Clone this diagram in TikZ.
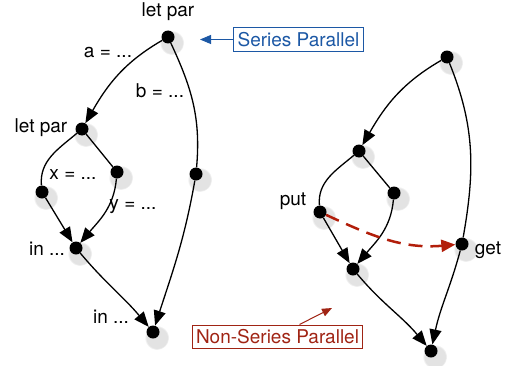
\documentclass[tikz,border=0pt]{standalone}
\usepackage{fontspec}
\setmainfont{TeX Gyre Heros}
\usetikzlibrary{arrows.meta,shadows}
\definecolor{spblue}{RGB}{28,88,165}
\definecolor{nspred}{RGB}{160,36,20}
\definecolor{dashred}{RGB}{178,30,10}

\begin{document}
\begin{tikzpicture}[x=1pt,y=1pt,
  every node/.style={font=\fontsize{19}{22}\selectfont},
  vtx/.style={circle,fill=black,inner sep=0pt,minimum size=13pt,
    circular drop shadow={shadow xshift=2pt,shadow yshift=-3pt,opacity=.22,shadow scale=1.9}},
  edge/.style={line width=1.3pt},
  arr/.style={edge,-{Triangle[length=15pt,width=12pt]}},
  note/.style={draw,line width=1pt,inner xsep=4pt,inner ysep=1pt,minimum height=23pt}]
\useasboundingbox (0,0) rectangle (510,365);

% series parallel graph
\node[vtx] (a1) at (168,328) {};
\node[vtx] (b1) at (82,236) {};
\node[vtx] (c1) at (42,173) {};
\node[vtx] (d1) at (117,193) {};
\node[vtx] (e1) at (76,117) {};
\node[vtx] (f1) at (196,191) {};
\node[vtx] (g1) at (153,33) {};
\node (la1) at (168,353) {let par};
\node (lb1) at (41,237) {let par};
\node (le1) at (47,116) {in ...};
\node (lg1) at (111,48) {in ...};
\node (ea) at (108,312) {a = ...};
\node (eb) at (160,274) {b = ...};
\node (ex) at (73,190) {x = ...};
\node (ey) at (133,158) {y = ...};
\draw[arr] (a1) to[out=210,in=60] (b1);
\draw[edge] (a1) to[out=-65,in=85] (f1);
\draw[arr] (f1) to[out=-100,in=72] (g1);
\draw[edge] (b1) to[out=220,in=95] (c1);
\draw[edge] (b1) -- (d1);
\draw[arr] (c1) -- (e1);
\draw[arr] (d1) to[out=-95,in=50] (e1);
\draw[arr] (e1) to[out=-50,in=130] (g1);

% non-series parallel graph
\node[vtx] (a2) at (447,308) {};
\node[vtx] (b2) at (359,214) {};
\node[vtx] (c2) at (320,153) {};
\node[vtx] (d2) at (394,172) {};
\node[vtx] (e2) at (353,96) {};
\node[vtx] (f2) at (462,121) {};
\node[vtx] (g2) at (431,14) {};
\node (lc2) at (293,164) {put};
\node (lf2) at (488,115) {get};
\draw[arr] (a2) to[out=210,in=60] (b2);
\draw[edge] (a2) to[out=-68,in=80] (f2);
\draw[arr] (f2) to[out=-105,in=78] (g2);
\draw[edge] (b2) to[out=220,in=95] (c2);
\draw[edge] (b2) -- (d2);
\draw[arr] (c2) -- (e2);
\draw[arr] (d2) to[out=-95,in=50] (e2);
\draw[arr] (e2) to[out=-50,in=130] (g2);
\draw[dashred,line width=2.5pt,dash pattern=on 14pt off 8pt,
  -{Triangle[length=14pt,width=12pt]}] (c2) to[out=-25,in=185] (f2);

% notes
\node[note,draw=spblue,text=spblue] (sp) at (298.5,325.5) {Series Parallel};
\coordinate (spt) at (200,325.5);
\draw[spblue,line width=1pt,-{Triangle[length=11pt,width=9pt]}] (sp) -- (spt);
\node[note,draw=nspred,text=nspred] (nsp) at (277.5,28.5) {Non-Series Parallel};
\coordinate (nspt) at (332,57);
\draw[nspred,line width=1pt,-{Triangle[length=10pt,width=8pt]}] ([xshift=22pt]nsp.north) -- (nspt);
\end{tikzpicture}
\end{document}
